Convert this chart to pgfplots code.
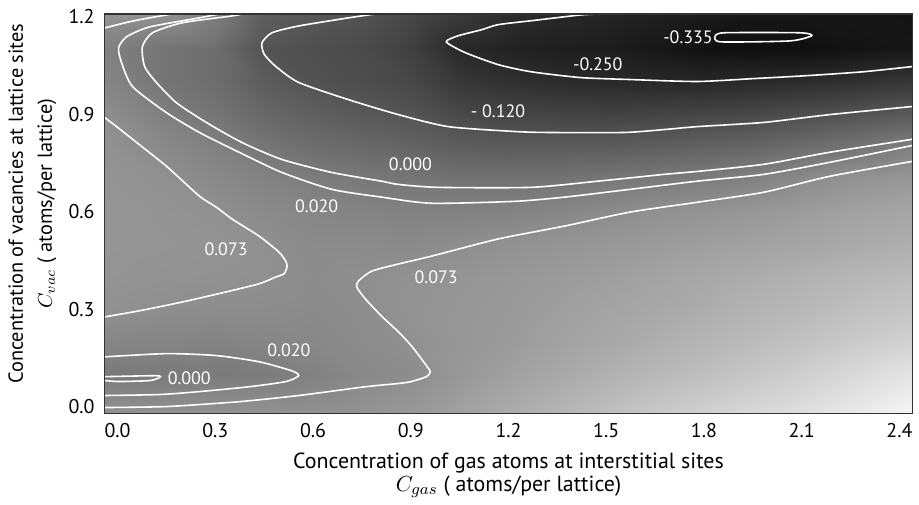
\documentclass[border=0pt]{standalone}
\usepackage{pgfplots}
\pgfplotsset{compat=1.18}
\usepackage{fontspec}
\setmainfont{PT Sans}

\tikzset{
    cline/.style={white, line width=0.8pt, smooth, tension=0.4},
    clbl/.style={white, font=\fontsize{9}{10}\selectfont, inner sep=0pt},
}

\begin{document}
\begin{tikzpicture}
\begin{axis}[
    name=ax,
    width=405.5pt, height=200.5pt, scale only axis,
    xmin=-0.04, xmax=2.44, ymin=-0.021, ymax=1.209,
    xtick={0,0.3,0.6,0.9,1.2,1.5,1.8,2.1,2.4},
    xticklabels={0.0,0.3,0.6,0.9,1.2,1.5,1.8,2.1,2.4},
    ytick={0,0.3,0.6,0.9,1.2},
    yticklabels={0.0,0.3,0.6,0.9,1.2},
    major tick length=0pt,
    axis on top,
    axis line style={black!80, line width=0.8pt},
    colormap/blackwhite,
    point meta min=-0.37, point meta max=0.42,
    tick label style={font=\fontsize{10}{12}\selectfont},
    xticklabel style={yshift=-1.5pt},
    yticklabel style={xshift=-1.5pt},
    xlabel={Concentration of gas atoms at interstitial sites\\$C_{gas}$ ( atoms/per lattice)},
    xlabel style={align=center, font=\fontsize{11}{11.5}\selectfont, yshift=-0.5pt},
    ylabel={Concentration of vacancies at lattice sites\\$C_{vac}$ ( atoms/per lattice)},
    ylabel style={align=center, font=\fontsize{10.2}{14.5}\selectfont,
        at={(axis description cs:-0.0894,0.525)}, anchor=center},
]
% background field, read off the grey levels
\addplot[surf, shader=interp, mesh/cols=17, point meta=\thisrow{z}] table {
x y z
-0.04 -0.02 0.08
0.15 -0.02 0.08
0.3 -0.02 0.08
0.45 -0.02 0.085
0.6 -0.02 0.08
0.75 -0.02 0.085
0.9 -0.02 0.10
1.05 -0.02 0.13
1.2 -0.02 0.16
1.35 -0.02 0.19
1.5 -0.02 0.22
1.65 -0.02 0.25
1.8 -0.02 0.275
1.95 -0.02 0.30
2.1 -0.02 0.32
2.25 -0.02 0.35
2.44 -0.02 0.39

-0.04 0.1 0.005
0.15 0.1 0.008
0.3 0.1 0.01
0.45 0.1 0.012
0.6 0.1 0.03
0.75 0.1 0.055
0.9 0.1 0.066
1.05 0.1 0.10
1.2 0.1 0.125
1.35 0.1 0.15
1.5 0.1 0.175
1.65 0.1 0.20
1.8 0.1 0.22
1.95 0.1 0.245
2.1 0.1 0.27
2.25 0.1 0.30
2.44 0.1 0.335

-0.04 0.2 0.045
0.15 0.2 0.04
0.3 0.2 0.035
0.45 0.2 0.045
0.6 0.2 0.05
0.75 0.2 0.065
0.9 0.2 0.076
1.05 0.2 0.095
1.2 0.2 0.11
1.35 0.2 0.13
1.5 0.2 0.15
1.65 0.2 0.17
1.8 0.2 0.19
1.95 0.2 0.21
2.1 0.2 0.23
2.25 0.2 0.255
2.44 0.2 0.28

-0.04 0.3 0.078
0.15 0.3 0.071
0.3 0.3 0.065
0.45 0.3 0.065
0.6 0.3 0.06
0.75 0.3 0.068
0.9 0.3 0.085
1.05 0.3 0.095
1.2 0.3 0.105
1.35 0.3 0.12
1.5 0.3 0.135
1.65 0.3 0.15
1.8 0.3 0.165
1.95 0.3 0.185
2.1 0.3 0.20
2.25 0.3 0.22
2.44 0.3 0.24

-0.04 0.4 0.088
0.15 0.4 0.082
0.3 0.4 0.08
0.45 0.4 0.076
0.6 0.4 0.065
0.75 0.4 0.072
0.9 0.4 0.08
1.05 0.4 0.09
1.2 0.4 0.10
1.35 0.4 0.11
1.5 0.4 0.12
1.65 0.4 0.135
1.8 0.4 0.15
1.95 0.4 0.165
2.1 0.4 0.18
2.25 0.4 0.195
2.44 0.4 0.21

-0.04 0.5 0.092
0.15 0.5 0.088
0.3 0.5 0.085
0.45 0.5 0.075
0.6 0.5 0.06
0.75 0.5 0.06
0.9 0.5 0.058
1.05 0.5 0.068
1.2 0.5 0.08
1.35 0.5 0.09
1.5 0.5 0.10
1.65 0.5 0.11
1.8 0.5 0.12
1.95 0.5 0.13
2.1 0.5 0.14
2.25 0.5 0.155
2.44 0.5 0.17

-0.04 0.6 0.092
0.15 0.6 0.085
0.3 0.6 0.076
0.45 0.6 0.06
0.6 0.6 0.045
0.75 0.6 0.038
0.9 0.6 0.03
1.05 0.6 0.03
1.2 0.6 0.035
1.35 0.6 0.045
1.5 0.6 0.061
1.65 0.6 0.078
1.8 0.6 0.088
1.95 0.6 0.10
2.1 0.6 0.115
2.25 0.6 0.13
2.44 0.6 0.145

-0.04 0.7 0.088
0.15 0.7 0.076
0.3 0.7 0.055
0.45 0.7 0.035
0.6 0.7 0.015
0.75 0.7 0.004
0.9 0.7 -0.005
1.05 0.7 -0.018
1.2 0.7 -0.017
1.35 0.7 -0.013
1.5 0.7 -0.002
1.65 0.7 0.007
1.8 0.7 0.017
1.95 0.7 0.031
2.1 0.7 0.06
2.25 0.7 0.085
2.44 0.7 0.10

-0.04 0.8 0.08
0.15 0.8 0.055
0.3 0.8 0.028
0.45 0.8 -0.004
0.6 0.8 -0.03
0.75 0.8 -0.045
0.9 0.8 -0.06
1.05 0.8 -0.08
1.2 0.8 -0.087
1.35 0.8 -0.087
1.5 0.8 -0.085
1.65 0.8 -0.076
1.8 0.8 -0.065
1.95 0.8 -0.053
2.1 0.8 -0.032
2.25 0.8 -0.01
2.44 0.8 0.025

-0.04 0.9 0.072
0.15 0.9 0.022
0.3 0.9 -0.01
0.45 0.9 -0.05
0.6 0.9 -0.075
0.75 0.9 -0.095
0.9 0.9 -0.11
1.05 0.9 -0.145
1.2 0.9 -0.158
1.35 0.9 -0.161
1.5 0.9 -0.165
1.65 0.9 -0.162
1.8 0.9 -0.155
1.95 0.9 -0.146
2.1 0.9 -0.131
2.25 0.9 -0.115
2.44 0.9 -0.09

-0.04 1.0 0.045
0.15 1.0 -0.01
0.3 1.0 -0.03
0.45 1.0 -0.085
0.6 1.0 -0.115
0.75 1.0 -0.13
0.9 1.0 -0.15
1.05 1.0 -0.20
1.2 1.0 -0.22
1.35 1.0 -0.234
1.5 1.0 -0.243
1.65 1.0 -0.246
1.8 1.0 -0.249
1.95 1.0 -0.24
2.1 1.0 -0.232
2.25 1.0 -0.22
2.44 1.0 -0.20

-0.04 1.1 0.03
0.15 1.1 -0.012
0.3 1.1 -0.03
0.45 1.1 -0.11
0.6 1.1 -0.125
0.75 1.1 -0.14
0.9 1.1 -0.17
1.05 1.1 -0.245
1.2 1.1 -0.262
1.35 1.1 -0.275
1.5 1.1 -0.28
1.65 1.1 -0.30
1.8 1.1 -0.32
1.95 1.1 -0.325
2.1 1.1 -0.325
2.25 1.1 -0.31
2.44 1.1 -0.30

-0.04 1.209 0.09
0.15 1.209 0.08
0.3 1.209 0.022
0.45 1.209 -0.08
0.6 1.209 -0.10
0.75 1.209 -0.115
0.9 1.209 -0.15
1.05 1.209 -0.19
1.2 1.209 -0.23
1.35 1.209 -0.245
1.5 1.209 -0.255
1.65 1.209 -0.27
1.8 1.209 -0.29
1.95 1.209 -0.30
2.1 1.209 -0.30
2.25 1.209 -0.30
2.44 1.209 -0.31
};

% contour lines
\addplot[cline] coordinates {(1.834,1.139) (1.861,1.151) (2.094,1.151) (2.131,1.142) (2.064,1.126) (1.852,1.123) (1.834,1.139)};
\addplot[cline] coordinates {(1.489,1.209) (1.422,1.206) (1.269,1.188) (1.168,1.176) (1.116,1.160) (1.046,1.142) (1.009,1.123) (1.067,1.090) (1.168,1.053) (1.269,1.031) (1.422,1.013) (1.574,1.007) (1.779,1.001) (1.954,1.010) (2.116,1.019) (2.290,1.031) (2.440,1.047)};
\addplot[cline] coordinates {(0.792,1.209) (0.709,1.197) (0.556,1.172) (0.474,1.151) (0.443,1.120) (0.450,1.085) (0.486,1.047) (0.556,0.998) (0.709,0.945) (0.862,0.899) (1.015,0.862) (1.220,0.847) (1.321,0.844) (1.556,0.844) (1.678,0.853) (1.779,0.862) (1.984,0.875) (2.186,0.899) (2.440,0.924)};
\addplot[cline] coordinates {(0.382,1.209) (0.352,1.203) (0.199,1.182) (0.107,1.151) (0.076,1.108) (0.083,1.047) (0.119,0.998) (0.180,0.936) (0.272,0.875) (0.382,0.813) (0.504,0.761) (0.657,0.721) (0.810,0.694) (0.862,0.684) (0.984,0.675) (1.269,0.675) (1.474,0.694) (1.678,0.715) (1.779,0.724) (1.984,0.746) (2.186,0.783) (2.440,0.823)};
\addplot[cline] coordinates {(0.312,1.209) (0.251,1.197) (0.098,1.169) (0.028,1.139) (0.003,1.105) (0.012,1.059) (0.046,0.985) (0.150,0.905) (0.251,0.844) (0.373,0.783) (0.504,0.721) (0.657,0.669) (0.810,0.645) (0.963,0.626) (1.220,0.632) (1.373,0.645) (1.574,0.669) (1.779,0.694) (1.984,0.715) (2.186,0.752) (2.440,0.804)};
\addplot[cline] coordinates {(-0.040,1.166) (0.037,1.185) (0.098,1.197) (0.168,1.209)};
\addplot[cline] coordinates {(-0.040,0.890) (-0.003,0.862) (0.046,0.823) (0.150,0.740) (0.251,0.648) (0.303,0.614) (0.352,0.577) (0.434,0.525) (0.495,0.476) (0.517,0.446) (0.520,0.430) (0.511,0.409) (0.486,0.399) (0.434,0.378) (0.333,0.353) (0.199,0.322) (0.067,0.295) (-0.040,0.276)};
\addplot[cline] coordinates {(-0.040,-0.003) (0.150,0.000) (0.373,0.015) (0.556,0.034) (0.761,0.061) (0.862,0.071) (0.902,0.077) (0.948,0.092) (0.960,0.107) (0.948,0.126) (0.902,0.187) (0.862,0.230) (0.810,0.279) (0.761,0.331) (0.734,0.368) (0.740,0.387) (0.780,0.417) (0.862,0.439) (0.963,0.463) (1.168,0.516) (1.373,0.556) (1.574,0.599) (1.779,0.629) (1.984,0.660) (2.186,0.709) (2.440,0.755)};
\addplot[cline] coordinates {(-0.040,0.153) (0.150,0.163) (0.303,0.157) (0.434,0.138) (0.535,0.110) (0.556,0.095) (0.517,0.077) (0.404,0.061) (0.251,0.046) (0.128,0.037) (-0.040,0.034)};
\addplot[cline] coordinates {(-0.040,0.092) (0.119,0.095) (0.128,0.089) (0.098,0.080) (0.006,0.077) (-0.040,0.080)};

% contour labels
\node[clbl, anchor=east] at (axis cs:1.828,1.136) {-0.335};
\node[clbl] at (axis cs:1.474,1.053) {-0.250};
\node[clbl] at (axis cs:1.168,0.909) {- 0.120};
\node[clbl] at (axis cs:0.899,0.746) {0.000};
\node[clbl] at (axis cs:0.611,0.617) {0.020};
\node[clbl] at (axis cs:0.333,0.485) {0.073};
\node[clbl] at (axis cs:0.978,0.399) {0.073};
\node[clbl] at (axis cs:0.526,0.172) {0.020};
\node[clbl] at (axis cs:0.220,0.086) {0.000};
\end{axis}
% white margins round the frame, as in the reference
\path ([xshift=-52.5pt, yshift=7pt]ax.north west) ([xshift=1.5pt]ax.south east);
\end{tikzpicture}
\end{document}
